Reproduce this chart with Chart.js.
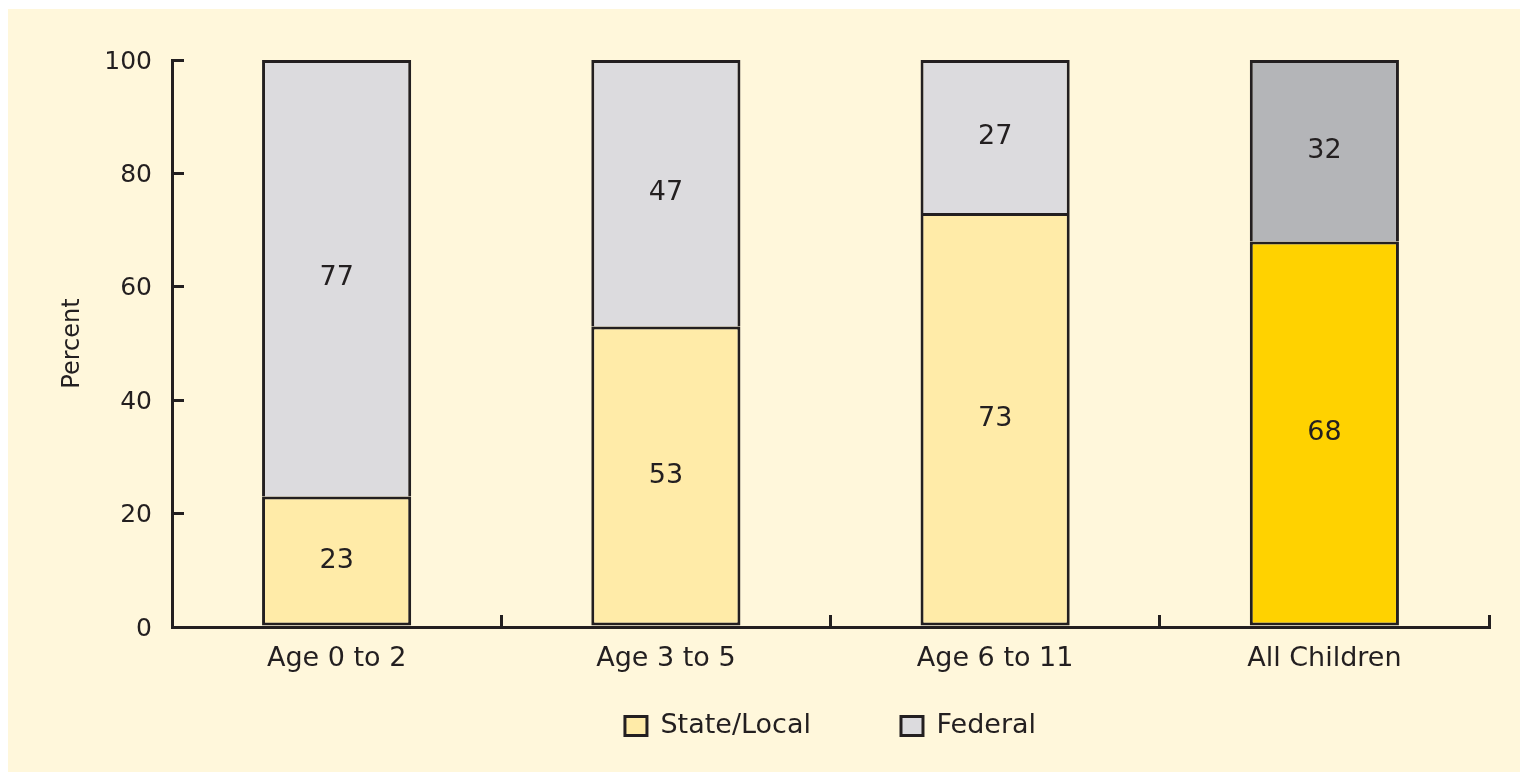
<!DOCTYPE html>
<html>
<head>
<meta charset="utf-8">
<script src="https://cdn.jsdelivr.net/npm/chart.js@4.4.1/dist/chart.umd.min.js"></script>
<style>
  html, body { margin: 0; padding: 0; background: #ffffff; }
  #wrap { position: absolute; left: 8px; top: 9px; width: 1512px; height: 763px; background: #FFF7DB; }
  canvas { display: block; }
</style>
</head>
<body>
<div id="wrap"><canvas id="c"></canvas></div>
<script>
const categories = ['Age 0 to 2', 'Age 3 to 5', 'Age 6 to 11', 'All Children'];
const stateLocal = [23, 53, 73, 68];
const federal = [77, 47, 27, 32];
const stateColors = ['#FFEBA8', '#FFEBA8', '#FFEBA8', '#FFD200'];
const federalColors = ['#DCDBDE', '#DCDBDE', '#DCDBDE', '#B4B5B8'];
const yTicks = [0, 20, 40, 60, 80, 100];

const DARK = '#231F20';
const FONT = 'DejaVu Sans';
Chart.defaults.font.family = FONT;
Chart.defaults.color = DARK;

const valueLabels = {
  id: 'valueLabels',
  afterDatasetsDraw(chart) {
    const ctx = chart.ctx;
    ctx.save();
    ctx.font = '27px "' + FONT + '"';
    ctx.fillStyle = DARK;
    ctx.textAlign = 'center';
    ctx.textBaseline = 'middle';
    chart.data.datasets.forEach((ds, di) => {
      const meta = chart.getDatasetMeta(di);
      meta.data.forEach((el, i) => {
        const p = el.getProps(['x', 'y', 'base'], true);
        ctx.fillText(String(ds.data[i]), p.x, (p.y + p.base) / 2);
      });
    });
    ctx.restore();
  }
};

// the x axis takes no layout height (so the legend sits close), but its label clip area is restored
const xLabelRoom = {
  id: 'xLabelRoom',
  afterLayout(chart) {
    const x = chart.scales.x;
    x.bottom = x.top + 80;
    x.height = 80;
    const lg = chart.legend;
    if (lg) { lg.top -= 4.5; lg.bottom -= 4.5; }
  }
};

new Chart(document.getElementById('c'), {
  type: 'bar',
  data: {
    labels: categories,
    datasets: [
      {
        label: 'State/Local',
        data: stateLocal,
        backgroundColor: (c) => stateColors[c.dataIndex] ?? stateColors[0],
        borderColor: DARK,
        borderWidth: 3,
        borderSkipped: false,
        barPercentage: 0.453,
        categoryPercentage: 1.0
      },
      {
        label: 'Federal',
        data: federal,
        backgroundColor: (c) => federalColors[c.dataIndex] ?? federalColors[0],
        borderColor: DARK,
        borderWidth: 3,
        borderSkipped: 'start',
        barPercentage: 0.453,
        categoryPercentage: 1.0
      }
    ]
  },
  options: {
    responsive: true,
    maintainAspectRatio: false,
    animation: false,
    layout: { padding: { top: 51, right: 31, left: 0, bottom: 18 } },
    plugins: {
      tooltip: { enabled: false },
      legend: {
        position: 'bottom',
        fullSize: false,
        labels: {
          boxWidth: 22,
          boxHeight: 19,
          padding: 90,
          color: DARK,
          font: { size: 27, family: FONT }
        }
      }
    },
    scales: {
      x: {
        stacked: true,
        grid: { display: true, drawOnChartArea: false, offset: true, tickLength: -12, lineWidth: 3, color: DARK },
        border: { display: true, color: DARK, width: 3 },
        ticks: { padding: 28, color: DARK, font: { size: 27, family: FONT }, maxRotation: 0, autoSkip: false },
        afterFit(scale) { scale.height = 0; }
      },
      y: {
        stacked: true,
        min: 0,
        max: 100,
        afterBuildTicks(scale) { scale.ticks = yTicks.map(v => ({ value: v })); },
        grid: { display: true, drawOnChartArea: false, tickLength: -12, lineWidth: 3, color: DARK },
        border: { display: true, color: DARK, width: 3 },
        ticks: { padding: 32, labelOffset: 2, color: DARK, font: { size: 25, family: FONT } },
        title: { display: true, text: 'Percent', color: DARK, font: { size: 24, family: FONT }, padding: { top: 50, bottom: 0 } },
        afterFit(scale) { scale.width = 164; }
      }
    }
  },
  plugins: [valueLabels, xLabelRoom]
});
</script>
</body>
</html>
